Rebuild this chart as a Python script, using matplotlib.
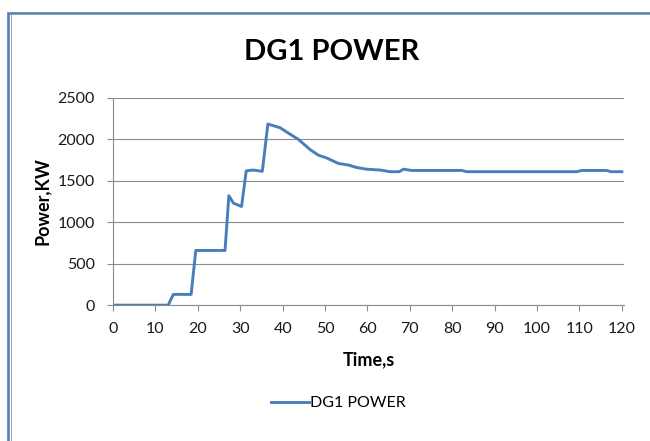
import matplotlib.pyplot as plt
from matplotlib.patches import Rectangle

# values
time_s = [0, 13, 14.2, 18.4, 19.5, 26.4, 27.3, 28.4, 30.3, 31.4, 33, 35.2, 36.5,
          39.4, 41.5, 43.7, 46.5, 48.4, 50.4, 53.1, 55.5, 57.5, 59.8, 63, 65.3,
          67.5, 68.5, 70.4, 82.2, 83.4, 109.4, 110.5, 116.4, 117.4, 120]
power_kw = [0, 0, 130, 130, 660, 660, 1320, 1230, 1190, 1620, 1630, 1615, 2185,
            2140, 2070, 2000, 1875, 1810, 1775, 1710, 1690, 1660, 1640, 1630, 1610,
            1610, 1640, 1625, 1625, 1610, 1610, 1625, 1625, 1610, 1610]
x_ticks = list(range(0, 121, 10))
y_ticks = [0, 500, 1000, 1500, 2000, 2500]

plt.rcParams['font.family'] = ['Lato', 'DejaVu Sans']

fig = plt.figure(figsize=(6.5, 4.41), dpi=100)
ax = fig.add_axes([0.174, 0.308, 0.786, 0.47])

grid_col = '#8c8c8c'
ax.plot(time_s, power_kw, color='#4A7EBB', lw=2.1, label='DG1 POWER')
ax.set_xlim(0, 120.5)
ax.set_ylim(0, 2500)
ax.set_xticks(x_ticks)
ax.set_yticks(y_ticks)
ax.grid(axis='y', color=grid_col, lw=0.8)
ax.set_axisbelow(True)
for s in ['top', 'right']:
    ax.spines[s].set_visible(False)
for s in ['left', 'bottom']:
    ax.spines[s].set_color(grid_col)
    ax.spines[s].set_linewidth(0.8)
ax.tick_params(direction='out', length=4, color=grid_col, width=0.8,
               labelsize=11.5, labelcolor='#1a1a1a')
ax.tick_params(axis='x', pad=8)
ax.tick_params(axis='y', pad=9)

fig.text(0.510, 0.881, 'DG1 POWER', fontsize=21, fontweight='bold',
         ha='center', va='center')
ax.set_xlabel('Time,s', fontsize=13, fontweight='bold', labelpad=11)
ax.set_ylabel('Power,KW', fontsize=13, fontweight='bold', labelpad=5)

fig.legend(loc='center', bbox_to_anchor=(0.52, 0.086), frameon=False,
           fontsize=11.5, handlelength=2.4, handletextpad=0.05)

# outer chart frame (only left and top edges visible)
fig.patches.append(Rectangle((0.0125, -0.1), 1.2, 1.0705, transform=fig.transFigure,
                             fill=False, edgecolor='#4F81BD', lw=1.9))
fig.patches.append(Rectangle((0.0162, -0.1), 1.2, 1.0672, transform=fig.transFigure,
                             fill=False, edgecolor='#a0a0a0', lw=0.7))

fig.savefig('out.png', dpi=100)
